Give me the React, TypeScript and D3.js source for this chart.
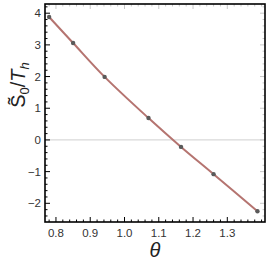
import React, { useEffect, useRef } from 'react';
import * as d3 from 'd3';

// values
const theta = [0.78, 0.85, 0.942, 1.07, 1.165, 1.26, 1.388];
const s0 = [3.88, 3.06, 1.99, 0.69, -0.22, -1.08, -2.25];
const xTicks = [0.8, 0.9, 1.0, 1.1, 1.2, 1.3];
const yTicks = [-2, -1, 0, 1, 2, 3, 4];

const W = 268;
const H = 263;

export default function App() {
  const ref = useRef<SVGSVGElement>(null);

  useEffect(() => {
    const svg = d3.select(ref.current);
    svg.selectAll('*').remove();

    const left = 45, right = 265, top = 4, bottom = 222;
    const x = d3.scaleLinear().domain([0.768, 1.41]).range([left, right]);
    const y = d3.scaleLinear().domain([-2.59, 4.29]).range([bottom, top]);

    const font = 'Liberation Sans, Arial, sans-serif';

    // zero line
    svg.append('line')
      .attr('x1', left).attr('x2', right)
      .attr('y1', y(0)).attr('y2', y(0))
      .style('stroke', '#d9d9d9')
      .style('stroke-width', 1.3);

    const data = theta.map((t, i) => [t, s0[i]] as [number, number]);

    const line = d3.line<[number, number]>()
      .x((d) => x(d[0]))
      .y((d) => y(d[1]))
      .curve(d3.curveCatmullRom);

    svg.append('path')
      .datum(data)
      .attr('d', line)
      .style('fill', 'none')
      .style('stroke', '#b57470')
      .style('stroke-width', 2);

    svg.selectAll('.pt')
      .data(data)
      .enter()
      .append('circle')
      .attr('class', 'pt')
      .attr('cx', (d) => x(d[0]))
      .attr('cy', (d) => y(d[1]))
      .attr('r', 2.2)
      .style('fill', '#5a5a5a');

    // ticks
    const xMinor = d3.range(0.78, 1.41, 0.02).filter((v) => x(v) > left && x(v) < right);
    const yMinor = d3.range(-2.4, 4.3, 0.2).filter((v) => y(v) > top && y(v) < bottom);

    const g = svg.append('g').style('stroke', '#000').style('stroke-width', 1);
    xMinor.forEach((v) => {
      const major = xTicks.some((t) => Math.abs(t - v) < 1e-6);
      const len = major ? 5 : 2.5;
      g.append('line').attr('x1', x(v)).attr('x2', x(v)).attr('y1', bottom).attr('y2', bottom - len);
      g.append('line').attr('x1', x(v)).attr('x2', x(v)).attr('y1', top).attr('y2', top + len)
        .style('stroke', '#c8c8c8');
    });
    yMinor.forEach((v) => {
      const major = yTicks.some((t) => Math.abs(t - v) < 1e-6);
      const len = major ? 5 : 2.5;
      g.append('line').attr('x1', left).attr('x2', left + len).attr('y1', y(v)).attr('y2', y(v));
      g.append('line').attr('x1', right).attr('x2', right - len).attr('y1', y(v)).attr('y2', y(v))
        .style('stroke', '#c8c8c8');
    });

    // frame
    svg.append('rect')
      .attr('x', left).attr('y', top)
      .attr('width', right - left).attr('height', bottom - top)
      .style('fill', 'none')
      .style('stroke', '#000')
      .style('stroke-width', 1.6);

    // tick labels
    svg.selectAll('.xl')
      .data(xTicks)
      .enter()
      .append('text')
      .attr('x', (d) => x(d))
      .attr('y', bottom + 15)
      .text((d) => d.toFixed(1))
      .style('font-family', font)
      .style('font-size', 11.5)
      .style('fill', '#333')
      .style('text-anchor', 'middle');

    svg.selectAll('.yl')
      .data(yTicks)
      .enter()
      .append('text')
      .attr('x', left - 4)
      .attr('y', (d) => y(d) + 4)
      .text((d) => (d < 0 ? '\u2212' + Math.abs(d) : String(d)))
      .style('font-family', font)
      .style('font-size', 11.5)
      .style('fill', '#333')
      .style('text-anchor', 'end');

    // axis labels
    svg.append('text')
      .attr('x', 155)
      .attr('y', 257)
      .text('θ')
      .style('font-family', font)
      .style('font-style', 'italic')
      .style('font-size', 20)
      .style('fill', '#222')
      .style('text-anchor', 'middle');

    const yl = svg.append('text')
      .attr('transform', 'translate(25,85) rotate(-90)')
      .style('font-family', font)
      .style('font-size', 20)
      .style('fill', '#222')
      .style('text-anchor', 'middle');
    yl.append('tspan').text('S\u0303');
    yl.append('tspan').text('0').attr('dy', 4).style('font-size', 13);
    yl.append('tspan').text('/').attr('dy', -4);
    yl.append('tspan').text('T').style('font-style', 'italic');
    yl.append('tspan').text('h').attr('dy', 4).style('font-size', 13).style('font-style', 'italic');
  }, []);

  return (
    <svg
      ref={ref}
      width={W}
      height={H}
      style={{ position: 'absolute', left: 0, top: 0, background: '#fff' }}
    />
  );
}
